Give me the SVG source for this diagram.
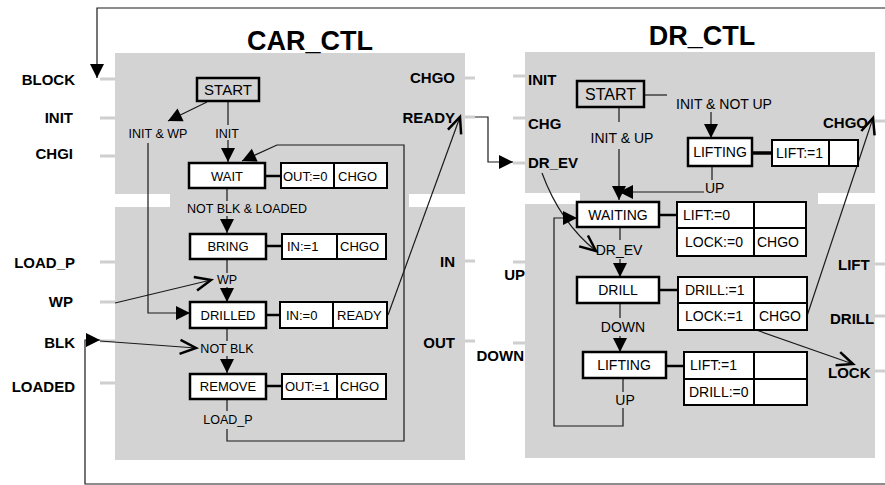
<svg xmlns="http://www.w3.org/2000/svg" width="885" height="485" viewBox="0 0 885 485">
<style>
text{font-family:"Liberation Sans",Arial,sans-serif;fill:#000}
.title{font-size:27px;font-weight:bold;text-anchor:middle}
.port{font-size:15px;font-weight:bold}
.end{text-anchor:end}
.mid{text-anchor:middle}
.sc{font-size:13px;text-anchor:middle}
.sd{font-size:14px;text-anchor:middle}
.ac{font-size:13px}
.ad{font-size:14px}
.tc{font-size:12.5px;text-anchor:middle}
.td{font-size:14px}
.st{font-size:15px;text-anchor:middle}
.panel{fill:#d3d3d3}
.stub{stroke:#cfcfcf;stroke-width:3}
.box{fill:#fff;stroke:#000;stroke-width:2.5}
.sbox{fill:#d3d3d3;stroke:#000;stroke-width:2.5}
.cell{fill:#fff;stroke:#000;stroke-width:2}
.lnk{stroke:#000;stroke-width:2.5}
.c{fill:none;stroke:#1a1a1a;stroke-width:1.2}
</style>
<defs>
<marker id="fa" viewBox="0 0 14 14" refX="14" refY="7" markerWidth="14" markerHeight="14" markerUnits="userSpaceOnUse" orient="auto" overflow="visible"><path d="M0,0 L14,7 L0,14 z" fill="#000"/></marker>
<marker id="oa" viewBox="0 0 18 16" refX="17" refY="8" markerWidth="18" markerHeight="16" markerUnits="userSpaceOnUse" orient="auto" overflow="visible"><path d="M1,1 L17,8 L1,15" fill="none" stroke="#000" stroke-width="2.5"/></marker>
</defs>

<g id="panels">
<rect class="panel" x="115" y="53" width="350" height="141"/>
<rect class="panel" x="170" y="193" width="239" height="15"/>
<rect class="panel" x="115" y="207" width="350" height="253"/>
<rect class="panel" x="525" y="52" width="350" height="141"/>
<rect class="panel" x="580" y="192" width="238" height="13"/>
<rect class="panel" x="525" y="204" width="350" height="254"/>
</g>

<g id="stubs">
<line class="stub" x1="100" y1="79" x2="115" y2="79"/>
<line class="stub" x1="100" y1="118" x2="115" y2="118"/>
<line class="stub" x1="100" y1="156" x2="115" y2="156"/>
<line class="stub" x1="100" y1="262" x2="115" y2="262"/>
<line class="stub" x1="100" y1="302" x2="115" y2="302"/>
<line class="stub" x1="100" y1="341" x2="115" y2="341"/>
<line class="stub" x1="100" y1="383" x2="115" y2="383"/>
<line class="stub" x1="465" y1="78" x2="475" y2="78"/>
<line class="stub" x1="465" y1="117" x2="475" y2="117"/>
<line class="stub" x1="465" y1="261" x2="475" y2="261"/>
<line class="stub" x1="465" y1="341" x2="475" y2="341"/>
<line class="stub" x1="513" y1="76" x2="525" y2="76"/>
<line class="stub" x1="513" y1="118" x2="525" y2="118"/>
<line class="stub" x1="513" y1="163" x2="525" y2="163"/>
<line class="stub" x1="513" y1="262" x2="525" y2="262"/>
<line class="stub" x1="513" y1="343" x2="525" y2="343"/>
<line class="stub" x1="875" y1="121" x2="885" y2="121"/>
<line class="stub" x1="875" y1="264" x2="885" y2="264"/>
<line class="stub" x1="875" y1="316" x2="885" y2="316"/>
<line class="stub" x1="875" y1="371" x2="885" y2="371"/>
</g>

<g id="titles">
<text class="title" x="310" y="50">CAR_CTL</text>
<text class="title" x="702" y="45">DR_CTL</text>
</g>

<g id="ports">
<text class="port end" x="75" y="85">BLOCK</text>
<text class="port end" x="73" y="123">INIT</text>
<text class="port end" x="73" y="159">CHGI</text>
<text class="port end" x="75" y="268">LOAD_P</text>
<text class="port end" x="73" y="307">WP</text>
<text class="port end" x="75" y="348">BLK</text>
<text class="port end" x="75" y="392">LOADED</text>
<text class="port end" x="455" y="83">CHGO</text>
<text class="port end" x="455" y="123">READY</text>
<text class="port end" x="455" y="267">IN</text>
<text class="port end" x="455" y="348">OUT</text>
<text class="port" x="528" y="85">INIT</text>
<text class="port" x="528" y="129">CHG</text>
<text class="port" x="528" y="168">DR_EV</text>
<text class="port end" x="525" y="280">UP</text>
<text class="port end" x="524" y="361">DOWN</text>
<text class="port" x="823" y="128">CHGO</text>
<text class="port" x="838" y="270">LIFT</text>
<text class="port" x="830" y="324">DRILL</text>
<text class="port" x="828" y="378">LOCK</text>
</g>

<g id="connectors">
<path class="c" d="M885,8 H97 V78" marker-end="url(#fa)"/>
<path class="c" d="M885,484 H85 V340 H100" marker-end="url(#fa)"/>
<path class="c" d="M207,102 L168,121" marker-end="url(#fa)"/>
<path class="c" d="M148,143 V313 H190" marker-end="url(#fa)"/>
<path class="c" d="M228,101 V125"/>
<path class="c" d="M228,140 V162" marker-end="url(#fa)"/>
<path class="c" d="M227,429 V441 H404 V145 H277 L242,161" marker-end="url(#fa)"/>
<path class="c" d="M227,188 V201"/>
<path class="c" d="M227,216 V233" marker-end="url(#fa)"/>
<path class="c" d="M227,259 V273"/>
<path class="c" d="M227,287 V302" marker-end="url(#fa)"/>
<path class="c" d="M227,328 V341"/>
<path class="c" d="M227,356 V373" marker-end="url(#fa)"/>
<path class="c" d="M227,399 V411"/>
<path class="c" d="M115,303 L211,280" marker-end="url(#oa)"/>
<path class="c" d="M100,341 L196,348" marker-end="url(#oa)"/>
<path class="c" d="M388,315 L460,117" marker-end="url(#oa)"/>
<path class="c" d="M475,117 H488 V162 H513" marker-end="url(#fa)"/>
<path class="c" d="M644,95 H667"/>
<path class="c" d="M711,112 V138" marker-end="url(#fa)"/>
<path class="c" d="M712,166 V180"/>
<path class="c" d="M704,192 H619" marker-end="url(#fa)"/>
<path class="c" d="M619,107 V122"/>
<path class="c" d="M619,149 V200" marker-end="url(#fa)"/>
<path class="c" d="M620,227 V240"/>
<path class="c" d="M620,259 V277" marker-end="url(#fa)"/>
<path class="c" d="M542,173 Q560,222 596,251" marker-end="url(#oa)"/>
<path class="c" d="M620,303 V318"/>
<path class="c" d="M620,336 V352" marker-end="url(#fa)"/>
<path class="c" d="M623,378 V392"/>
<path class="c" d="M623,408 V426 H554 V218 H577" marker-end="url(#fa)"/>
<path class="c" d="M807,316 L873,118" marker-end="url(#oa)"/>
<path class="c" d="M742,325 L853,364" marker-end="url(#oa)"/>
</g>

<g id="labels">
<text class="tc" x="158" y="138">INIT &amp; WP</text>
<text class="tc" x="227" y="138">INIT</text>
<text class="tc" x="247" y="213">NOT BLK &amp; LOADED</text>
<text class="tc" x="227" y="284">WP</text>
<text class="tc" x="227" y="353">NOT BLK</text>
<text class="tc" x="228" y="424">LOAD_P</text>
<text class="td" x="676" y="109">INIT &amp; NOT UP</text>
<text class="td mid" x="622" y="143">INIT &amp; UP</text>
<text class="td" x="705" y="193">UP</text>
<text class="td mid" x="619" y="255">DR_EV</text>
<text class="td mid" x="623" y="332">DOWN</text>
<text class="td mid" x="625" y="405">UP</text>
</g>

<g id="car_start">
<rect class="sbox" x="197" y="78" width="62" height="23"/>
<text class="st" x="228" y="95">START</text>
</g>
<g id="car_wait">
<rect class="box" x="189" y="163" width="76" height="25"/>
<text class="sc" x="227" y="180.5">WAIT</text>
<line class="lnk" x1="265" y1="176" x2="281" y2="176"/>
<rect class="cell" x="281" y="163" width="53" height="25"/>
<rect class="cell" x="334" y="163" width="53" height="25"/>
<text class="ac" x="283" y="180.5">OUT:=0</text>
<text class="ac" x="338" y="180.5">CHGO</text>
</g>
<g id="car_bring">
<rect class="box" x="190" y="234" width="76" height="25"/>
<text class="sc" x="228" y="251">BRING</text>
<line class="lnk" x1="266" y1="246" x2="282" y2="246"/>
<rect class="cell" x="282" y="234" width="55" height="25"/>
<rect class="cell" x="337" y="234" width="49" height="25"/>
<text class="ac" x="287" y="251">IN:=1</text>
<text class="ac" x="340" y="251">CHGO</text>
</g>
<g id="car_drilled">
<rect class="box" x="190" y="302" width="76" height="26"/>
<text class="sc" x="228" y="320">DRILLED</text>
<line class="lnk" x1="266" y1="315" x2="280" y2="315"/>
<rect class="cell" x="280" y="302" width="53" height="26"/>
<rect class="cell" x="333" y="302" width="54" height="26"/>
<text class="ac" x="286" y="320">IN:=0</text>
<text class="ac" x="337" y="320">READY</text>
</g>
<g id="car_remove">
<rect class="box" x="190" y="374" width="76" height="25"/>
<text class="sc" x="228" y="391">REMOVE</text>
<line class="lnk" x1="266" y1="386" x2="282" y2="386"/>
<rect class="cell" x="282" y="374" width="55" height="25"/>
<rect class="cell" x="337" y="374" width="49" height="25"/>
<text class="ac" x="285" y="391">OUT:=1</text>
<text class="ac" x="340" y="391">CHGO</text>
</g>

<g id="dr_start">
<rect class="sbox" x="577" y="81" width="67" height="26"/>
<text class="st" x="610.5" y="100" style="font-size:16px">START</text>
</g>
<g id="dr_lifting1">
<rect class="box" x="688" y="138" width="64" height="28"/>
<text class="sd" x="720" y="157">LIFTING</text>
<line class="lnk" x1="752" y1="153" x2="772" y2="153" style="stroke-width:3.5"/>
<rect class="cell" x="772" y="140" width="57" height="26"/>
<rect class="cell" x="829" y="140" width="29" height="26"/>
<text class="ad" x="776" y="158">LIFT:=1</text>
</g>
<g id="dr_waiting">
<rect class="box" x="577" y="202" width="82" height="25"/>
<text class="sd" x="618" y="219.5">WAITING</text>
<line class="lnk" x1="659" y1="215" x2="677" y2="215"/>
<rect class="cell" x="677" y="202" width="77" height="26"/>
<rect class="cell" x="754" y="202" width="52" height="26"/>
<rect class="cell" x="677" y="228" width="77" height="28"/>
<rect class="cell" x="754" y="228" width="52" height="28"/>
<text class="ad" x="683" y="220">LIFT:=0</text>
<text class="ad" x="685" y="247">LOCK:=0</text>
<text class="ad" x="757" y="247">CHGO</text>
</g>
<g id="dr_drill">
<rect class="box" x="577" y="277" width="82" height="26"/>
<text class="sd" x="618" y="295">DRILL</text>
<line class="lnk" x1="659" y1="290" x2="678" y2="290"/>
<rect class="cell" x="678" y="277" width="76" height="26"/>
<rect class="cell" x="754" y="277" width="53" height="26"/>
<rect class="cell" x="678" y="303" width="76" height="27"/>
<rect class="cell" x="754" y="303" width="53" height="27"/>
<text class="ad" x="685" y="295">DRILL:=1</text>
<text class="ad" x="685" y="321">LOCK:=1</text>
<text class="ad" x="759" y="321">CHGO</text>
</g>
<g id="dr_lifting2">
<rect class="box" x="583" y="352" width="83" height="26"/>
<text class="sd" x="624" y="370">LIFTING</text>
<line class="lnk" x1="666" y1="366" x2="684" y2="366"/>
<rect class="cell" x="684" y="352" width="70" height="27"/>
<rect class="cell" x="754" y="352" width="53" height="27"/>
<rect class="cell" x="684" y="379" width="70" height="26"/>
<rect class="cell" x="754" y="379" width="53" height="26"/>
<text class="ad" x="690" y="370">LIFT:=1</text>
<text class="ad" x="689" y="397">DRILL:=0</text>
</g>
</svg>
